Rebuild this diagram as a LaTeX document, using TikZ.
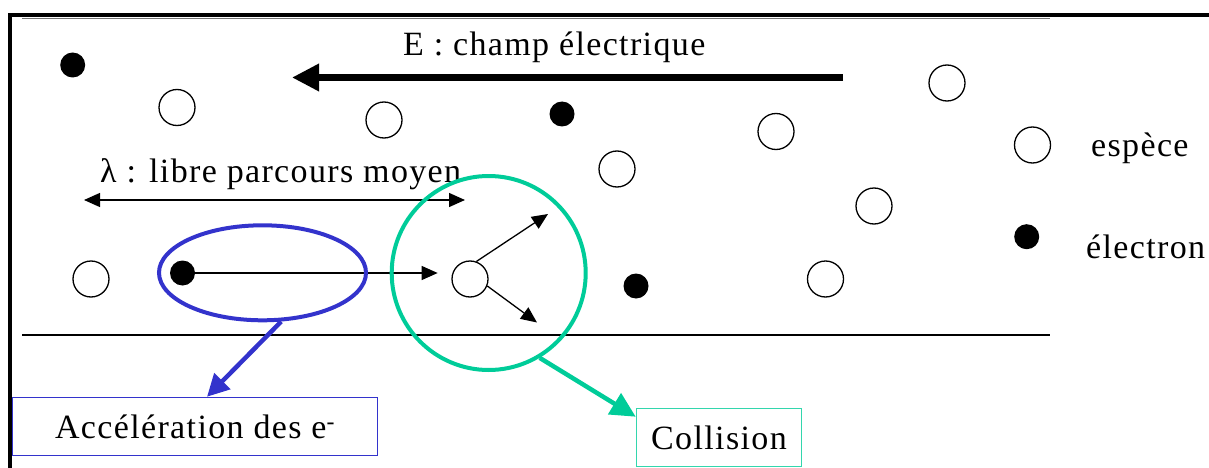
\documentclass[tikz,border=0pt]{standalone}
\usepackage{fontspec}
\setmainfont{Liberation Serif}[LetterSpace=4]
\usetikzlibrary{arrows.meta,shapes.geometric}
\definecolor{myblue}{RGB}{51,51,204}
\definecolor{mygreen}{RGB}{0,204,153}
\begin{document}
\begin{tikzpicture}[x=1pt,y=-1pt,
  species/.style={circle,draw,line width=1.3pt,minimum size=36pt,inner sep=0pt},
  electron/.style={circle,fill,minimum size=25pt,inner sep=0pt},
  lbl/.style={font=\fontsize{34}{40}\selectfont,inner sep=0pt},
  thinarr/.style={line width=1.3pt,-{Triangle[length=16pt,width=14pt]}},
  labelbox/.style={rectangle,line width=1.5pt,inner sep=0pt,font=\fontsize{34}{40}\selectfont}]
\useasboundingbox (0,0) rectangle (1209,468);
% frame and channel
\draw[line width=3.5pt] (10,468) -- (10,15) -- (1209,15);
\draw[line width=1.2pt,black!55] (22,18.5) -- (1050,18.5);
\draw[line width=1.3pt] (22,335) -- (1050,335);
% particles
\node[electron] (e1) at (72.7,65) {};
\node[electron] (e2) at (562,114) {};
\node[electron] (e3) at (182.5,273) {};
\node[electron] (e4) at (636,286) {};
\node[electron] (e5) at (1026.7,236.7) {};
\node[species] (c1) at (177,107.5) {};
\node[species] (c2) at (384,120) {};
\node[species] (c3) at (617,169) {};
\node[species] (c4) at (776,131.5) {};
\node[species] (c5) at (947,83) {};
\node[species] (c6) at (1032.5,145) {};
\node[species] (c7) at (874,206) {};
\node[species] (c8) at (825.5,279) {};
\node[species] (c9) at (91,279) {};
\node[species] (c10) at (470,279) {};
% electric field
\coordinate (Es) at (843,77.5);
\coordinate (Ee) at (292,77.5);
\draw[line width=6.5pt,-{Triangle[length=27pt,width=26pt]}] (Es) -- (Ee);
\node[lbl,anchor=base west] (Elab) at (403,55.5) {E : champ électrique};
% mean free path
\node[lbl,anchor=base west] (lam) at (100,182.7) {λ : libre parcours moyen};
\coordinate (la) at (84,200);
\coordinate (lb) at (465,200);
\draw[line width=1.3pt,{Triangle[length=16pt,width=14pt]}-{Triangle[length=16pt,width=14pt]}] (la) -- (lb);
% electron path and collision
\draw[thinarr,shorten >=13.7pt] (e3.east) -- (e3.east -| c10.west);
\coordinate (ca) at (548,214);
\coordinate (cb) at (537,322.5);
\draw[thinarr] (c10.70) -- (ca);
\draw[thinarr] (c10.-22) -- (cb);
% highlights
\node[ellipse,draw=myblue,line width=4pt,minimum width=207pt,minimum height=95pt,inner sep=0pt] (ell) at (262.5,272.8) {};
\node[circle,draw=mygreen,line width=4pt,minimum size=194pt,inner sep=0pt] (circ) at (488.7,273) {};
% boxes
\node[labelbox,draw=myblue,minimum width=365pt,minimum height=58pt] (acc) at (195,426.5) {Accélération des e\textsuperscript{-}};
\node[labelbox,draw=mygreen!80,minimum width=165pt,minimum height=58pt] (coll) at (719,437.5) {Collision};
\draw[line width=4.5pt,myblue,-{Triangle[length=22pt,width=22pt]}] (ell.-69) -- (acc.68);
\draw[line width=4.5pt,mygreen,-{Triangle[length=25pt,width=24pt]}] (circ.-59.5) -- (coll.166);
% legend
\node[lbl,anchor=base west] (lsp) at (1091,156) {espèce};
\node[lbl,anchor=base west] (lel) at (1086,258) {électron};
\end{tikzpicture}
\end{document}
